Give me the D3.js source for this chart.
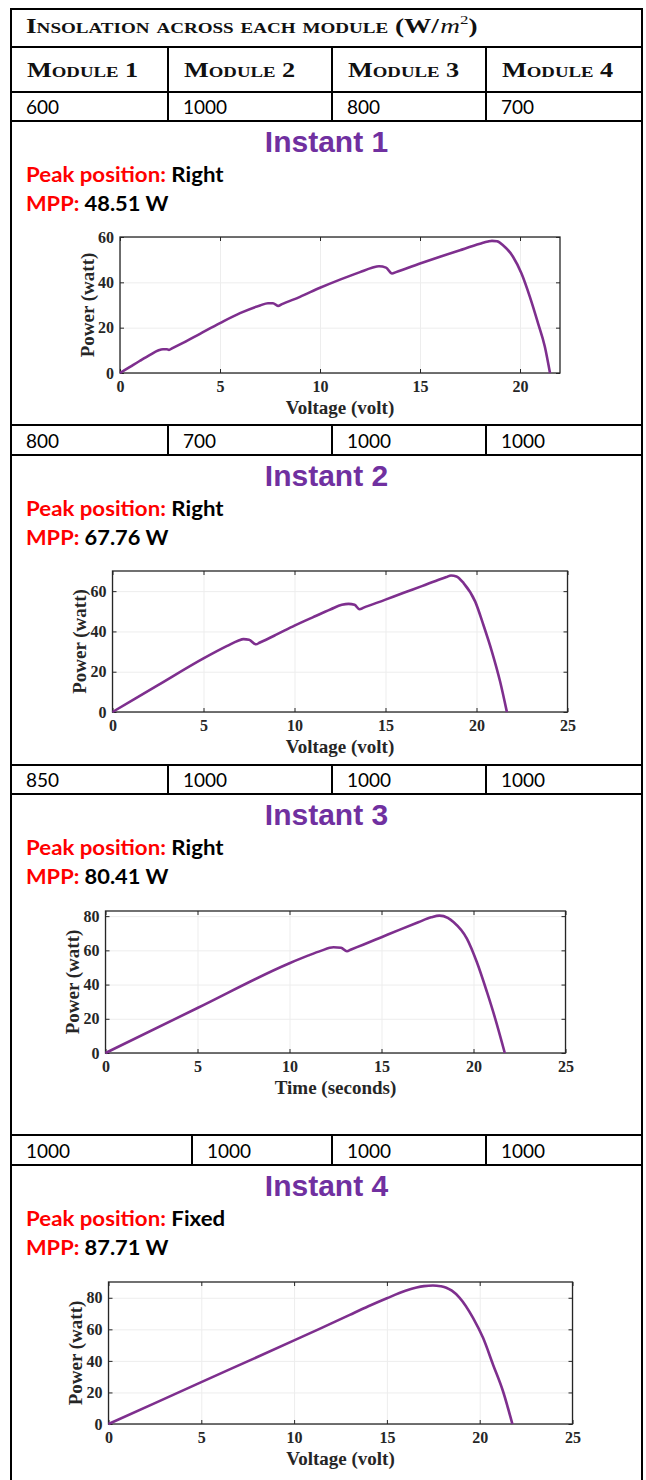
<!DOCTYPE html>
<html>
<head>
<meta charset="utf-8">
<script src="https://cdn.jsdelivr.net/npm/d3@7"></script>
<style>
  body { margin: 0; background: #fff; }
</style>
</head>
<body>
<svg id="chart"></svg>
<script>
// table content
const modules = ["Module 1", "Module 2", "Module 3", "Module 4"];
const insolation = [
  [600, 1000, 800, 700],
  [800, 700, 1000, 1000],
  [850, 1000, 1000, 1000],
  [1000, 1000, 1000, 1000]
];
const instants = ["Instant 1", "Instant 2", "Instant 3", "Instant 4"];
const peakPosition = ["Right", "Right", "Right", "Fixed"];
const mpp = ["48.51 W", "67.76 W", "80.41 W", "87.71 W"];
const xLabels = ["Voltage (volt)", "Voltage (volt)", "Time (seconds)", "Voltage (volt)"];
const yLabel = "Power (watt)";
const xMax = [22, 25, 25, 25];
const yMax = [60, 70, 83, 90];

// P-V curves
const volt1 = [0, 0.5, 1, 1.5, 1.9, 2.15, 2.35, 2.45, 2.6, 3, 4, 5, 6, 7, 7.4, 7.65, 7.9, 8.1, 9, 10, 11, 12, 12.6, 12.95, 13.3, 13.6, 13.8, 15, 16, 17, 18, 18.4, 18.6, 18.85, 19.15, 19.65, 20.07, 20.49, 20.9, 21.24, 21.5];
const power1 = [0, 2.7, 5.4, 8.0, 9.9, 10.5, 10.5, 10.2, 10.85, 12.6, 17.3, 22.0, 26.4, 29.8, 30.8, 30.8, 29.6, 30.4, 33.6, 37.6, 41.2, 44.5, 46.4, 47.1, 46.5, 43.9, 44.5, 48.3, 51.3, 54.2, 57.0, 58.0, 58.3, 58.1, 56.4, 51.3, 44.0, 33.7, 22.0, 11.7, 0];

const volt2 = [0, 2.5, 5, 6.3, 6.9, 7.2, 7.5, 7.88, 8.1, 9, 10, 11, 12, 12.6, 12.97, 13.3, 13.57, 13.8, 15, 16, 17, 18, 18.35, 18.6, 18.9, 19.29, 19.93, 20.38, 20.85, 21.3, 21.67];
const power2 = [0, 13.3, 26.6, 32.8, 35.4, 36.2, 35.9, 33.6, 34.5, 38.4, 42.9, 47, 51, 53.2, 53.7, 53.2, 51, 51.8, 55.8, 59.2, 62.5, 65.9, 67.0, 67.8, 67.3, 64, 54.8, 43.2, 29.9, 15, 0];

const volt3 = [0, 5, 10, 11, 11.7, 12.39, 12.8, 13.12, 13.35, 14, 15, 16, 17, 17.7, 18.15, 18.6, 18.91, 19.64, 20.18, 20.73, 21.18, 21.7];
const power3 = [0, 26.3, 52.5, 56.9, 59.7, 61.8, 61.5, 59.5, 60.5, 63.3, 67.7, 72.1, 76.4, 79.3, 80.3, 79.0, 76.6, 66.9, 53.2, 35.7, 20.1, 0];

const volt4 = [0, 5, 10, 11.37, 13, 14, 15, 16, 16.6, 17, 17.48, 17.9, 18.2, 18.5, 18.92, 19.64, 20.18, 20.72, 21.26, 21.76];
const power4 = [0, 26.5, 53, 60.3, 69.2, 74.6, 79.7, 84.4, 86.5, 87.4, 87.8, 87.3, 86.4, 84.5, 80, 67.3, 54.6, 37.6, 20.6, 0];

const volts = [volt1, volt2, volt3, volt4];
const powers = [power1, power2, power3, power4];

const W = 646, H = 1480;
const L = 11, R = 642;
const serif = "'Liberation Serif', 'Times New Roman', serif";
const sans = "Lato, 'Noto Sans', sans-serif";
const purple = "#7030A0";
const lineColor = "#7E2F8E";

const svg = d3.select("#chart").attr("width", W).attr("height", H);
svg.append("rect").attr("width", W).attr("height", H).attr("fill", "#fff");

// rows of insolation values and the panel below each one
const valueRows = [[92, 121], [425, 455], [765, 794], [1135, 1165]];
const dividers = [[168, 332, 486], [168, 332, 486], [168, 332, 486], [192, 332, 486]];
const boxes = [
  { x0: 120, x1: 560, y0: 237, y1: 373 },
  { x0: 112.5, x1: 567.5, y0: 571, y1: 712 },
  { x0: 105.5, x1: 565.5, y0: 911, y1: 1053 },
  { x0: 108.5, x1: 572.5, y0: 1282, y1: 1424 }
];

const grid = svg.append("g").attr("stroke", "#000").attr("stroke-width", 2);
function hline(y) { grid.append("line").attr("x1", L - 1).attr("x2", R + 1).attr("y1", y).attr("y2", y); }
function vline(x, y1, y2) { grid.append("line").attr("x1", x).attr("x2", x).attr("y1", y1).attr("y2", y2); }

vline(L, 8, H);
vline(R, 8, H);
[9, 47].forEach(hline);
dividers[0].forEach(x => vline(x, 47, 92));
valueRows.forEach(([t, b], i) => {
  hline(t); hline(b);
  dividers[i].forEach(x => vline(x, t, b));
});

// title row (source text is wide, so stretch it a bit)
const title = svg.append("text")
  .attr("transform", "translate(26,33) scale(1.3,1)")
  .attr("font-family", serif).attr("font-weight", "bold").attr("font-size", 21)
  .attr("font-variant", "small-caps").attr("fill", "#111");
title.append("tspan").text("Insolation across each module (W/");
title.append("tspan").attr("font-style", "italic").attr("font-weight", "normal")
  .attr("font-variant", "normal").attr("dx", 1).text("m");
title.append("tspan").attr("font-weight", "normal").attr("font-size", 13)
  .attr("dy", -9).text("2");
title.append("tspan").attr("dy", 9).text(")");

// module header row
const colLefts = [L].concat(dividers[0]);
modules.forEach((m, i) => {
  svg.append("text")
    .attr("transform", `translate(${colLefts[i] + 16},77) scale(1.25,1)`)
    .attr("font-family", serif).attr("font-weight", "bold").attr("font-size", 21)
    .attr("font-variant", "small-caps").attr("fill", "#111")
    .text(m);
});

// values
insolation.forEach((row, r) => {
  const lefts = [L].concat(dividers[r]);
  row.forEach((v, c) => {
    svg.append("text")
      .attr("x", lefts[c] + 15).attr("y", valueRows[r][1] - 7)
      .attr("font-family", sans).attr("font-size", 19).attr("fill", "#000")
      .text(v);
  });
});

// panels
instants.forEach((name, i) => {
  const top = valueRows[i][1];
  svg.append("text")
    .attr("x", (L + R) / 2).attr("y", top + 31)
    .attr("text-anchor", "middle")
    .attr("font-family", "'Liberation Sans', Arial, sans-serif").attr("font-weight", "bold")
    .attr("font-size", 30).attr("fill", purple)
    .text(name);

  const p = svg.append("text").attr("transform", `translate(26,${top + 61}) scale(1.06,1)`)
    .attr("font-family", sans).attr("font-weight", "bold").attr("font-size", 21);
  p.append("tspan").attr("fill", "#FF0000").text("Peak position: ");
  p.append("tspan").attr("fill", "#000").text(peakPosition[i]);

  const m = svg.append("text").attr("transform", `translate(26,${top + 90}) scale(1.04,1)`)
    .attr("font-family", sans).attr("font-weight", "bold").attr("font-size", 21);
  m.append("tspan").attr("fill", "#FF0000").text("MPP: ");
  m.append("tspan").attr("fill", "#000").text(mpp[i]);

  drawPlot(i);
});

function drawPlot(i) {
  const b = boxes[i];
  const g = svg.append("g");
  const x = d3.scaleLinear().domain([0, xMax[i]]).range([b.x0, b.x1]);
  const y = d3.scaleLinear().domain([0, yMax[i]]).range([b.y1, b.y0]);
  const xt = x.ticks(5), yt = y.ticks(4);
  const h = b.y1 - b.y0, w = b.x1 - b.x0;

  // grid lines
  g.append("g").attr("transform", `translate(0,${b.y1})`)
    .call(d3.axisBottom(x).tickValues(xt).tickSize(-h).tickFormat(""))
    .call(s => s.select(".domain").remove())
    .selectAll("line").attr("stroke", "#ededed");
  g.append("g").attr("transform", `translate(${b.x0},0)`)
    .call(d3.axisLeft(y).tickValues(yt).tickSize(-w).tickFormat(""))
    .call(s => s.select(".domain").remove())
    .selectAll("line").attr("stroke", "#ededed");

  // axes, ticks pointing inward on all four sides
  const styleAxis = s => {
    s.select(".domain").remove();
    s.selectAll("line").attr("stroke", "#262626");
    s.selectAll("text").attr("font-family", serif).attr("font-weight", "bold")
      .attr("font-size", 16).attr("fill", "#262626");
  };
  g.append("g").attr("transform", `translate(0,${b.y1})`)
    .call(d3.axisBottom(x).tickValues(xt).tickSize(-4).tickPadding(8).tickSizeOuter(0))
    .call(styleAxis);
  g.append("g").attr("transform", `translate(0,${b.y0})`)
    .call(d3.axisTop(x).tickValues(xt).tickSize(-4).tickFormat(""))
    .call(styleAxis);
  g.append("g").attr("transform", `translate(${b.x0},0)`)
    .call(d3.axisLeft(y).tickValues(yt).tickSize(-4).tickPadding(6).tickSizeOuter(0))
    .call(styleAxis);
  g.append("g").attr("transform", `translate(${b.x1},0)`)
    .call(d3.axisRight(y).tickValues(yt).tickSize(-4).tickFormat(""))
    .call(styleAxis);

  g.append("rect")
    .attr("x", b.x0).attr("y", b.y0).attr("width", w).attr("height", h)
    .attr("fill", "none").attr("stroke", "#262626").attr("stroke-width", 1.3);

  const pts = volts[i].map((v, k) => [v, powers[i][k]]);
  g.append("path")
    .datum(pts)
    .attr("fill", "none")
    .attr("stroke", lineColor)
    .attr("stroke-width", 2.6)
    .attr("stroke-linejoin", "round")
    .attr("d", d3.line().x(d => x(d[0])).y(d => y(d[1])).curve(d3.curveMonotoneX));

  // axis titles
  g.append("text")
    .attr("x", (b.x0 + b.x1) / 2).attr("y", b.y1 + 41)
    .attr("text-anchor", "middle")
    .attr("font-family", serif).attr("font-weight", "bold").attr("font-size", 19)
    .attr("fill", "#262626")
    .text(xLabels[i]);
  g.append("text")
    .attr("transform", `translate(${b.x0 - 33},${(b.y0 + b.y1) / 2}) rotate(-90)`)
    .attr("text-anchor", "middle").attr("dominant-baseline", "central")
    .attr("font-family", serif).attr("font-weight", "bold").attr("font-size", 19)
    .attr("fill", "#262626")
    .text(yLabel);
}
</script>
</body>
</html>
